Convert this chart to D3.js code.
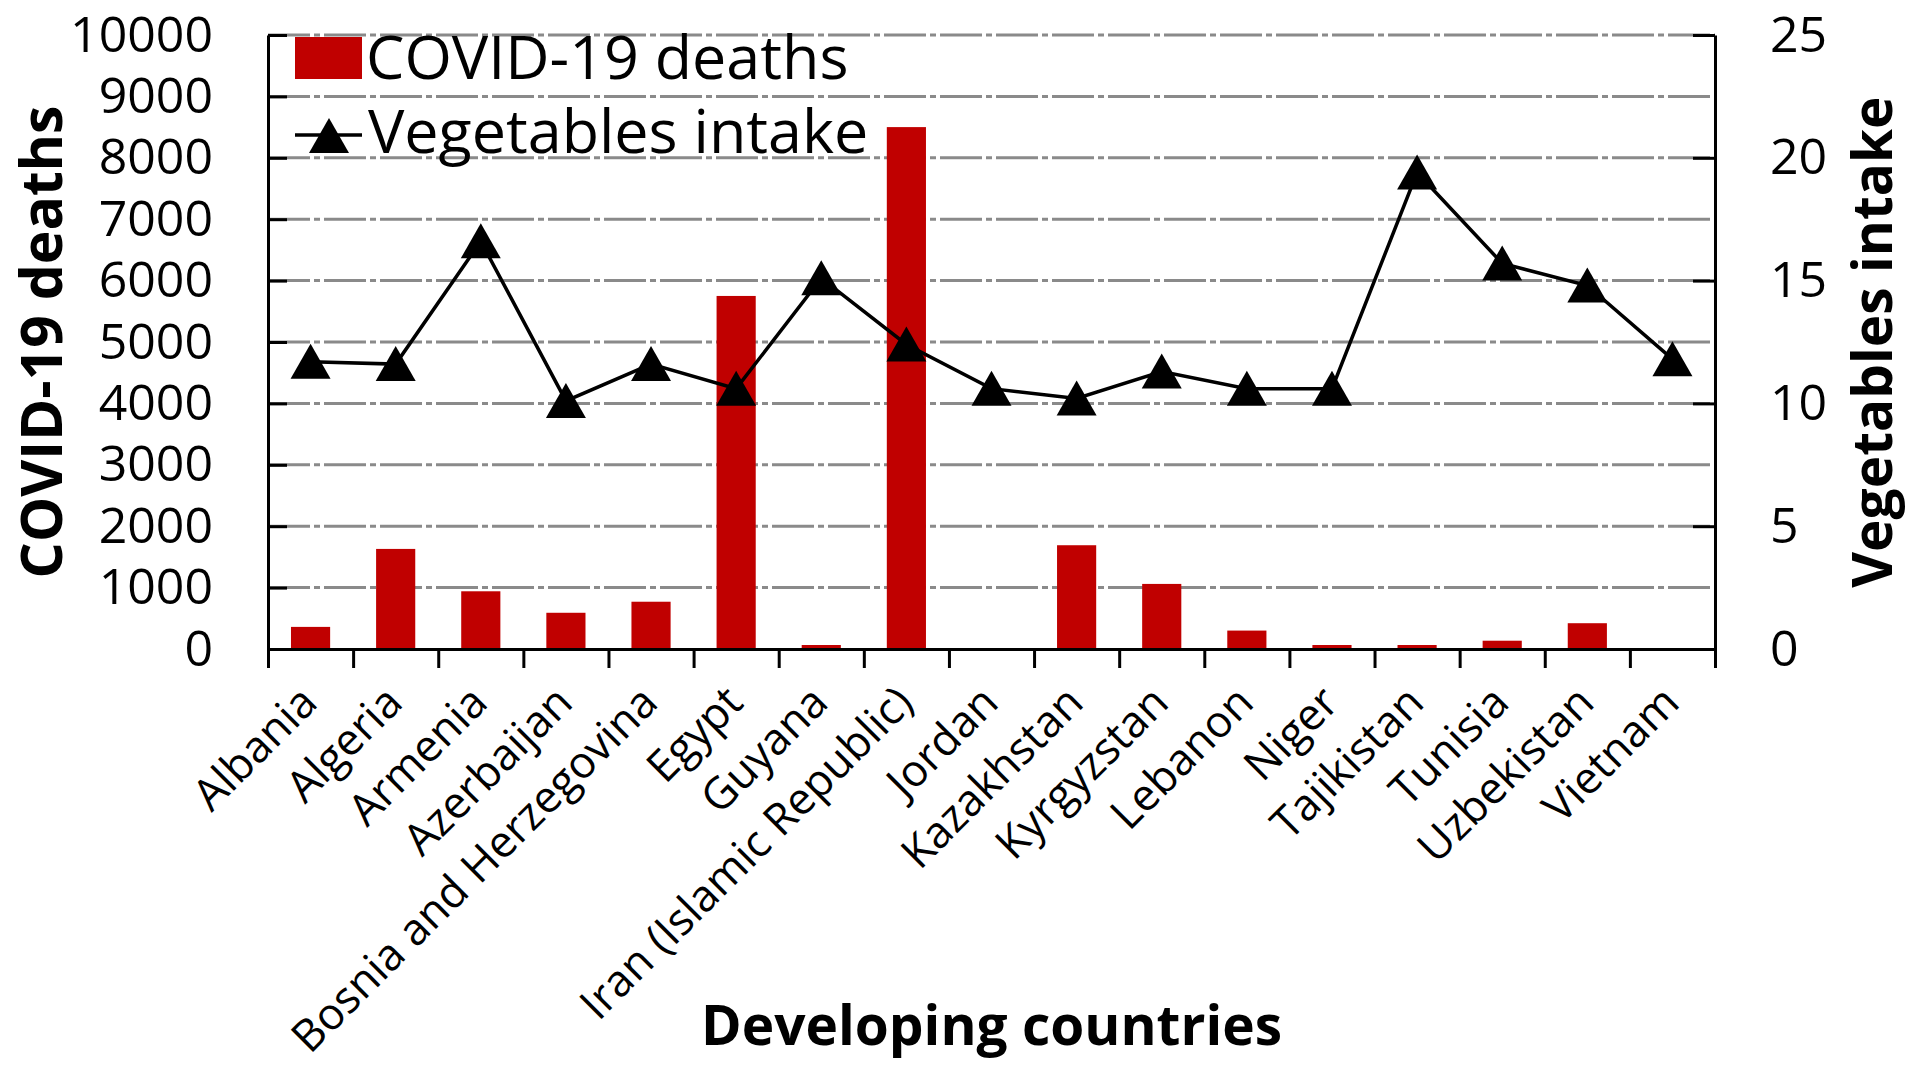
<!DOCTYPE html>
<html>
<head>
<meta charset="utf-8">
<script src="https://cdn.jsdelivr.net/npm/d3@7"></script>
<style>
  body { margin: 0; background: #fff; }
  svg { display: block; font-family: "Open Sans", sans-serif; }
</style>
</head>
<body>
<div id="chart"></div>
<script>

// values
var countries = ["Albania", "Algeria", "Armenia", "Azerbaijan", "Bosnia and Herzegovina",
  "Egypt", "Guyana", "Iran (Islamic Republic)", "Jordan", "Kazakhstan", "Kyrgyzstan",
  "Lebanon", "Niger", "Tajikistan", "Tunisia", "Uzbekistan", "Vietnam"];

var deaths = [360, 1630, 940, 590, 770, 5750, 65, 8500, 10, 1690, 1060, 300, 65, 65, 135, 420, 0];

var vegIntake = [11.7, 11.6, 16.6, 10.1, 11.6, 10.6, 15.1, 12.4, 10.6, 10.2, 11.3,
  10.6, 10.6, 19.4, 15.7, 14.8, 11.8];

var deathTicks = d3.range(0, 10001, 1000);
var intakeTicks = [0, 5, 10, 15, 20, 25];

var width = 1920, height = 1070;
var plotLeft = 268, plotRight = 1715, plotTop = 35, plotBottom = 649;

var svg = d3.select("#chart").append("svg")
  .attr("width", width)
  .attr("height", height);

var x = d3.scaleBand()
  .domain(countries)
  .range([plotLeft, plotRight]);
var bw = x.bandwidth();

var y = d3.scaleLinear().domain([0, 10000]).range([plotBottom, plotTop]);
var y2 = d3.scaleLinear().domain([0, 25]).range([plotBottom, plotTop]);

// dash-dot gridlines
svg.append("g")
  .selectAll("line")
  .data(deathTicks.slice(1))
  .enter()
  .append("line")
  .attr("x1", plotLeft)
  .attr("x2", plotRight)
  .attr("y1", function(d) { return y(d); })
  .attr("y2", function(d) { return y(d); })
  .attr("stroke", "#8a8a8a")
  .attr("stroke-width", 3)
  .attr("stroke-dasharray", "42,4,6,4")

// bars
svg.append("g")
  .selectAll("rect")
  .data(deaths)
  .enter()
  .append("rect")
  .attr("x", function(d, i) { return x(countries[i]) + bw * 0.27; })
  .attr("width", bw * 0.46)
  .attr("y", function(d) { return y(d); })
  .attr("height", function(d) { return plotBottom - y(d); })
  .attr("fill", "#c00000")

// left axis, ticks pointing in
var gLeft = svg.append("g")
  .attr("transform", "translate(" + plotLeft + ",0)")
  .call(d3.axisLeft(y).tickValues(deathTicks).tickFormat(d3.format("d"))
    .tickSize(-19).tickSizeOuter(0).tickPadding(55))
gLeft.selectAll("text").attr("font-size", 50).attr("fill", "#000").attr("font-family", "Open Sans")

// right axis
var gRight = svg.append("g")
  .attr("transform", "translate(" + plotRight + ",0)")
  .call(d3.axisRight(y2).tickValues(intakeTicks).tickFormat(d3.format("d"))
    .tickSize(-22).tickSizeOuter(0).tickPadding(55))
gRight.selectAll("text").attr("font-size", 50).attr("fill", "#000").attr("font-family", "Open Sans")

// bottom axis: ticks at band edges
var edges = d3.scaleLinear().domain([0, countries.length]).range([plotLeft, plotRight]);
svg.append("g")
  .attr("transform", "translate(0," + plotBottom + ")")
  .call(d3.axisBottom(edges).tickValues(d3.range(0, countries.length + 1))
    .tickSize(19).tickSizeOuter(0).tickFormat(""))

svg.selectAll(".domain, .tick line")
  .attr("stroke", "#000")
  .attr("stroke-width", 3)

// category labels at -45deg
svg.append("g")
  .selectAll("text")
  .data(countries)
  .enter()
  .append("text")
  .attr("transform", function(d) {
    return "translate(" + (x(d) + bw / 2 + 9) + "," + (plotBottom + 56) + ") rotate(-45)";
  })
  .attr("text-anchor", "end")
  .attr("font-size", 44)
  .attr("fill", "#000")
  .text(function(d) { return d; })

// vegetables line + triangles
var line = d3.line()
  .x(function(d, i) { return x(countries[i]) + bw / 2; })
  .y(function(d) { return y2(d); });

svg.append("path")
  .datum(vegIntake)
  .attr("d", line)
  .attr("fill", "none")
  .attr("stroke", "#000")
  .attr("stroke-width", 3.5)

var tri = "M0,-18L20,17L-20,17Z";

svg.append("g")
  .selectAll("path")
  .data(vegIntake)
  .enter()
  .append("path")
  .attr("d", tri)
  .attr("transform", function(d, i) {
    return "translate(" + (x(countries[i]) + bw / 2) + "," + y2(d) + ")";
  })
  .attr("fill", "#000")

// legend
var legend = svg.append("g");
legend.append("rect")
  .attr("x", 295).attr("y", 37)
  .attr("width", 67).attr("height", 42)
  .attr("fill", "#c00000")
legend.append("text")
  .attr("x", 366).attr("y", 79)
  .attr("font-size", 61)
  .text("COVID-19 deaths")
legend.append("line")
  .attr("x1", 295).attr("x2", 362)
  .attr("y1", 135).attr("y2", 135)
  .attr("stroke", "#000").attr("stroke-width", 3.5)
legend.append("path")
  .attr("d", tri)
  .attr("transform", "translate(329,136)")
legend.append("text")
  .attr("x", 368).attr("y", 153)
  .attr("font-size", 61)
  .text("Vegetables intake")

// axis titles
svg.append("text")
  .attr("transform", "translate(62," + (plotTop + plotBottom) / 2 + ") rotate(-90)")
  .attr("text-anchor", "middle")
  .attr("font-size", 57)
  .attr("font-weight", "bold")
  .text("COVID-19 deaths")

svg.append("text")
  .attr("transform", "translate(1892," + (plotTop + plotBottom) / 2 + ") rotate(-90)")
  .attr("text-anchor", "middle")
  .attr("font-size", 55)
  .attr("font-weight", "bold")
  .text("Vegetables intake")

svg.append("text")
  .attr("x", (plotLeft + plotRight) / 2)
  .attr("y", 1045)
  .attr("text-anchor", "middle")
  .attr("font-size", 55)
  .attr("font-weight", "bold")
  .text("Developing countries")

</script>
</body>
</html>
